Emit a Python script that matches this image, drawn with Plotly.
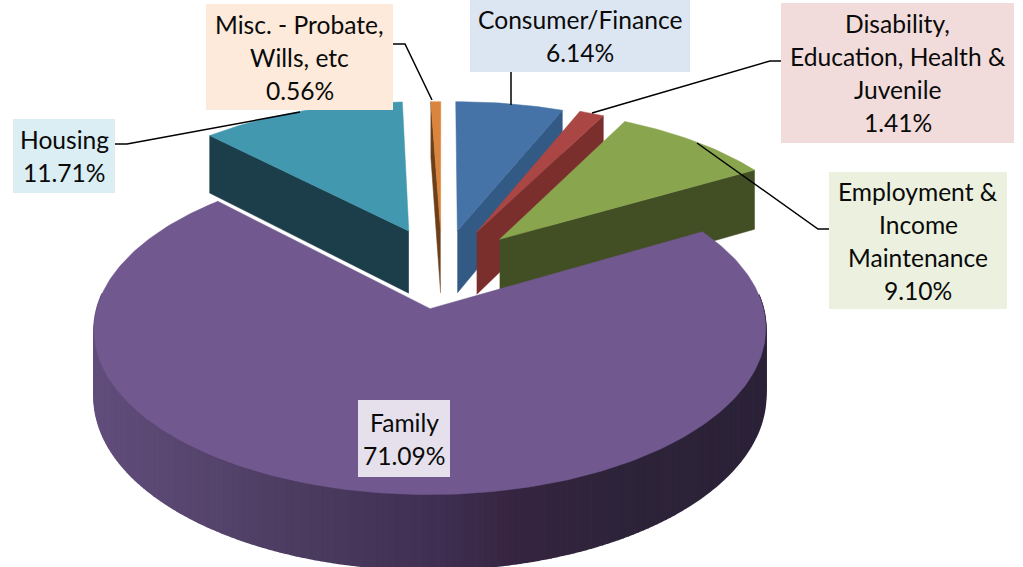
import numpy as np
import plotly.graph_objects as go

categories = ["Consumer/Finance", "Disability, Education, Health & Juvenile",
              "Employment & Income Maintenance", "Family", "Housing", "Misc. - Probate, Wills, etc"]
values = [6.14, 1.41, 9.10, 71.09, 11.71, 0.56]
label_lines = [["Consumer/Finance"], ["Disability,", "Education, Health &", "Juvenile"],
               ["Employment &", "Income", "Maintenance"], ["Family"], ["Housing"],
               ["Misc. - Probate,", "Wills, etc"]]

top_colors = ["#4572A7", "#AA4643", "#89A54E", "#71588F", "#4198AF", "#DB843D"]
wall_colors = ["#335A85", "#7B2F2D", "#424F25", "#3E2E50", "#1C3D4A", "#6B3F18"]
box_colors = ["#DCE6F2", "#F2DCDB", "#EBF1DE", "#E6E0EC", "#DBEEF4", "#FDEADA"]
explode = [0.255, 0.265, 0.265, 0.26, 0.27, 0.25]
# label boxes: left, right, top, bottom in page pixels
boxes = [(470, 690, 0, 72), (781, 1014, 3, 143), (829, 1007, 172, 309),
         (358, 450, 400, 477), (13, 115, 119, 193), (206, 393, 4, 110)]
leaders = {0: [(511, 72), (511, 105)],
           1: [(781, 61), (770, 61), (592, 113)],
           2: [(829, 229), (818, 229), (697, 143)],
           4: [(115, 144), (127, 144), (300, 112)],
           5: [(393, 44), (405, 44), (432, 100)]}
wall_side = {0: "end", 1: "end", 2: "end", 4: "start", 5: "start"}
draw_order = [4, 5, 0, 1, 2]
family = 3

XC, YC, A, B, K = 442, 268, 153, 323, 0.12
DEPTH, K_DEPTH = 64, 0.118
FONT = "Lato"
FONT_SIZE = 24.6

shade_x = [93, 300, 430, 520, 620, 767]
shade_rgb = [(0x62, 0x4E, 0x7C), (0x4C, 0x3C, 0x60), (0x40, 0x30, 0x54),
             (0x36, 0x24, 0x40), (0x2E, 0x24, 0x3A), (0x2B, 0x22, 0x38)]


def project(theta, r, bisector, e):
    u = r * np.sin(theta) + e * np.sin(bisector)
    v = r * np.cos(theta) + e * np.cos(bisector)
    w = 1 + K * v
    return XC + B * u / w, YC - A * v / w, DEPTH / (1 + K_DEPTH * v)


def poly(fig, xs, ys, color, name, lw=0.5):
    fig.add_trace(go.Scatter(x=list(xs), y=list(ys), mode="lines", fill="toself", fillcolor=color,
                             line=dict(color=color, width=lw), name=name, hoverinfo="name",
                             showlegend=False))


total = sum(values)
edges = np.cumsum([0] + values) / total * 2 * np.pi
fig = go.Figure()


def wedge(i):
    t0, t1 = edges[i], edges[i + 1]
    b = (t0 + t1) / 2
    th = np.linspace(t0, t1, max(6, int((t1 - t0) * 60)))
    rx, ry, rd = project(th, 1.0, b, explode[i])
    ax, ay, ad = project(np.array([0.0]), 0.0, b, explode[i])
    return t0, t1, b, th, rx, ry, rd, ax[0], ay[0], ad[0]


for i in draw_order:
    t0, t1, b, th, rx, ry, rd, ax, ay, ad = wedge(i)
    j = -1 if wall_side[i] == "end" else 0
    poly(fig, [ax, rx[j], rx[j], ax], [ay, ry[j], ry[j] + rd[j], ay + ad], wall_colors[i], categories[i])
    poly(fig, np.r_[ax, rx, ax], np.r_[ay, ry, ay], top_colors[i], categories[i])

# family: outer wall as graded quads (front-facing part only), then the top face
t0, t1, b, th, rx, ry, rd, ax, ay, ad = wedge(family)
for k in range(len(th) - 1):
    if np.cos(th[k]) > 0.1 or np.cos(th[k + 1]) > 0.1:
        continue
    mid = (rx[k] + rx[k + 1]) / 2
    c = [np.interp(mid, shade_x, [s[n] for s in shade_rgb]) for n in range(3)]
    col = "rgb(%d,%d,%d)" % tuple(c)
    poly(fig, [rx[k], rx[k + 1], rx[k + 1], rx[k]],
         [ry[k], ry[k + 1], ry[k + 1] + rd[k + 1], ry[k] + rd[k]], col, categories[family], lw=1.5)
poly(fig, np.r_[ax, rx, ax], np.r_[ay, ry, ay], top_colors[family], categories[family])

shapes, annotations = [], []
for i, pts in leaders.items():
    fig.add_trace(go.Scatter(x=[p[0] for p in pts], y=[p[1] for p in pts], mode="lines",
                             line=dict(color="black", width=1.5), hoverinfo="skip", showlegend=False))
for i, (l, r, t, btm) in enumerate(boxes):
    shapes.append(dict(type="rect", x0=l, x1=r, y0=t, y1=btm, xref="x", yref="y",
                       fillcolor=box_colors[i], line_width=0, layer="above"))
    lines = label_lines[i] + ["%.2f%%" % values[i]]
    mid_y = (t + btm) / 2
    for n, text in enumerate(lines):
        annotations.append(dict(x=(l + r) / 2, y=mid_y + (n - (len(lines) - 1) / 2) * 33, text=text,
                                xref="x", yref="y", showarrow=False, xanchor="center", yanchor="middle",
                                font=dict(family=FONT, size=FONT_SIZE, color="#0A0A0A")))

fig.update_layout(width=1023, height=567, margin=dict(l=0, r=0, t=0, b=0), paper_bgcolor="white",
                  plot_bgcolor="white", shapes=shapes, annotations=annotations, showlegend=False,
                  xaxis=dict(range=[0, 1023], visible=False, fixedrange=True),
                  yaxis=dict(range=[567, 0], visible=False, fixedrange=True))
fig.write_html("out.html", config=dict(displayModeBar=False),
               post_script="document.body.style.margin='0';document.body.style.overflow='hidden';")
